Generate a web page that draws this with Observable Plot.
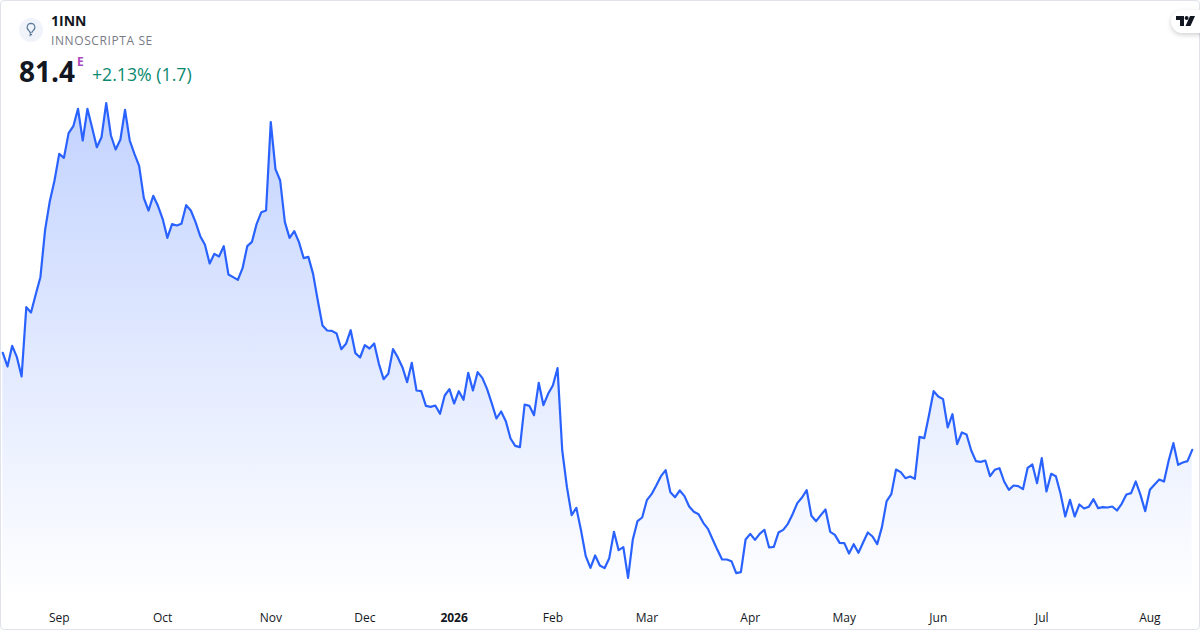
<!DOCTYPE html>
<html>
<head>
<meta charset="utf-8">
<script src="https://cdn.jsdelivr.net/npm/d3@7"></script>
<script src="https://cdn.jsdelivr.net/npm/@observablehq/plot@0.6"></script>
<style>
html,body{margin:0;padding:0;background:#fff;font-family:"Open Sans",sans-serif;}
#card{position:relative;width:1200px;height:630px;overflow:hidden;background:#fff;}
#frame{position:absolute;left:0;top:0;width:1198px;height:628px;border:1px solid #e0e3eb;border-radius:4px;pointer-events:none;}
#chart{position:absolute;left:0;top:0;}
#chart svg{display:block;}
.t{position:absolute;white-space:nowrap;line-height:1;}
#badge{position:absolute;left:19px;top:18px;width:24px;height:24px;border-radius:50%;background:#f0f3fa;}
#tv{position:absolute;left:1171px;top:10px;width:40px;height:23px;border-radius:12px;background:#fff;box-shadow:0 2px 5px rgba(0,0,0,.18);}
</style>
</head>
<body>
<div id="card">
  <div id="chart"></div>
  <div id="frame"></div>
  <div id="badge"><svg width="24" height="24" viewBox="0 0 24 24" fill="none" stroke="#5b7a99" stroke-width="1.1"><path d="M12 5.4a3.9 3.9 0 0 0-2.2 7.1c.6.5.9 1 1 1.7h2.4c.1-.7.4-1.2 1-1.7A3.9 3.9 0 0 0 12 5.4z"/><path d="M10.9 16.6h2.2M11.5 14.4l-.5 3.8"/></svg></div>
  <div class="t" style="left:51px;top:14px;font-size:14px;font-weight:700;color:#131722;">1INN</div>
  <div class="t" style="left:51px;top:35px;font-size:12px;color:#787b86;letter-spacing:.6px;">INNOSCRIPTA SE</div>
  <div class="t" style="left:19px;top:57px;font-size:28px;font-weight:700;color:#131722;">81.4</div>
  <div class="t" style="left:77px;top:56px;font-size:12px;font-weight:700;color:#ab47bc;">E</div>
  <div class="t" style="left:92px;top:66px;font-size:17.7px;color:#0b8a70;">+2.13% (1.7)</div>
  <div id="tv"><svg style="position:absolute;left:5px;top:6px" width="20" height="11" viewBox="0 0 20 11" fill="#131722"><path d="M0 0h8v10H4V4H0z"/><circle cx="10.6" cy="2" r="2"/><path d="M14 0h5l-4.5 10H9.5z"/></svg></div>
</div>
<script>
const prices = [
95.95,93.9,97.0,95.3,92.4,102.8,102.0,104.7,107.3,114.4,
118.7,121.8,125.8,125.2,128.9,129.95,132.55,127.8,132.55,129.7,
126.8,128.3,133.4,128.55,126.45,127.9,132.4,127.8,125.8,124.0,
119.15,117.3,119.5,118.0,116.05,113.2,115.25,115.05,115.3,118.1,
117.3,115.55,113.45,112.15,109.35,110.8,110.4,111.95,107.7,107.3,
106.9,108.65,111.95,112.6,115.3,117.05,117.3,130.55,123.5,121.8,
115.55,113.2,114.2,112.55,110.15,110.35,107.8,103.8,100.05,99.3,
99.25,98.85,96.5,97.3,99.35,95.9,95.25,97.1,96.6,97.35,
94.3,92.0,92.8,96.5,95.3,93.8,91.55,94.45,90.3,90.2,
88.0,87.85,88.05,86.8,89.55,90.5,88.35,90.2,88.9,92.95,
90.3,93.05,92.2,90.55,88.4,86.1,87.15,85.7,83.1,82.0,
81.8,88.2,88.0,86.6,91.45,88.1,89.8,91.05,93.65,81.3,
75.8,71.6,72.7,69.3,65.45,63.7,65.55,64.05,63.65,65.15,
69.1,66.35,66.8,62.2,67.9,70.7,71.25,73.85,74.75,76.05,
77.45,78.35,75.05,74.3,75.3,74.45,72.9,72.1,71.75,70.45,
69.55,67.95,66.4,64.95,64.95,64.7,62.9,63.05,67.95,68.8,
67.9,68.8,69.4,66.75,66.85,69.0,69.4,70.3,71.75,73.4,
74.25,75.35,71.5,70.7,71.6,72.45,69.1,68.65,67.45,67.4,
65.85,67.25,65.95,67.5,69.0,68.4,67.25,69.8,73.7,74.75,
78.45,78.05,77.15,77.4,77.05,83.35,83.15,86.55,90.2,89.4,
89.0,84.75,86.75,82.25,84.0,83.7,81.3,79.7,79.6,79.8,
77.45,78.4,78.65,76.65,75.4,76.05,75.95,75.5,78.7,79.2,
76.4,80.15,75.15,77.8,77.45,74.8,71.4,73.9,71.4,73.2,
72.6,72.85,74.0,72.65,72.8,72.75,72.9,72.3,73.3,74.7,
74.9,76.65,74.65,72.2,75.4,76.2,76.95,76.65,79.8,82.4,
79.15,79.5,79.7,81.4
];
const tickIndex = [12,34,57,77,96,117,137,159,179,199,221,244];
const tickLabels = ["Sep","Oct","Nov","Dec","2026","Feb","Mar","Apr","May","Jun","Jul","Aug"];
const yearTick = "2026";

const rows = prices.map((price, index) => ({index, price}));
const labelOf = i => tickLabels[tickIndex.indexOf(i)];
const monthTicks = tickIndex.filter(i => labelOf(i) !== yearTick);
const yearTicks = tickIndex.filter(i => labelOf(i) === yearTick);
const axisFont = {tickSize: 0, tickPadding: 13, fontSize: 12, fill: "#131722", tickFormat: labelOf, label: null};

const gradient = () => {
  const defs = d3.create("svg:defs");
  const g = defs.append("linearGradient").attr("id", "areaFill")
    .attr("x1", 0).attr("y1", 0).attr("x2", 0).attr("y2", 1);
  g.append("stop").attr("offset", "0%").attr("stop-color", "#2962ff").attr("stop-opacity", 0.28);
  g.append("stop").attr("offset", "100%").attr("stop-color", "#2962ff").attr("stop-opacity", 0);
  return defs.node();
};

const chart = Plot.plot({
  width: 1200,
  height: 630,
  marginTop: 0,
  marginLeft: 2.3,
  marginRight: 8.3,
  marginBottom: 30,
  style: {fontFamily: "'Open Sans',sans-serif", background: "transparent", overflow: "visible"},
  x: {type: "linear", domain: [0, prices.length - 1], axis: null},
  y: {type: "linear", domain: [58.8, 148.8], axis: null},
  marks: [
    gradient,
    Plot.areaY(rows, {x: "index", y1: 58.8, y2: "price", fill: "url(#areaFill)"}),
    Plot.lineY(rows, {x: "index", y: "price", stroke: "#2962ff", strokeWidth: 2.2, strokeLinejoin: "round"}),
    Plot.axisX({...axisFont, ticks: monthTicks}),
    Plot.axisX({...axisFont, ticks: yearTicks, fontWeight: 700})
  ]
});
document.getElementById("chart").appendChild(chart);
</script>
</body>
</html>
